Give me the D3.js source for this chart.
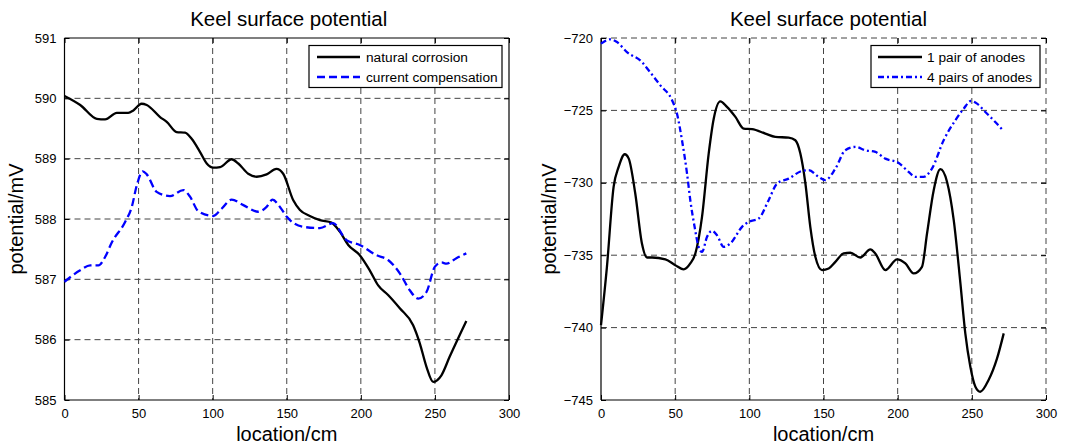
<!DOCTYPE html>
<html>
<head>
<meta charset="utf-8">
<script src="https://cdn.jsdelivr.net/npm/d3@7"></script>
<style>
  html, body { margin: 0; padding: 0; background: #fff; }
  svg { display: block; font-family: "Liberation Sans", Arial, Helvetica, sans-serif; }
</style>
</head>
<body>
<svg id="chart" width="1075" height="446"></svg>
<script>
// ---------- data ----------
const xTicks = [0, 50, 100, 150, 200, 250, 300];
const leftYTicks = [585, 586, 587, 588, 589, 590, 591];
const rightYTicks = [-745, -740, -735, -730, -725, -720];

const titleText = "Keel surface potential";
const xLabel = "location/cm";
const yLabel = "potential/mV";

const leftSeriesNames = ["natural corrosion", "current compensation"];
const rightSeriesNames = ["1 pair of anodes", "4 pairs of anodes"];

// natural corrosion
const ncX = [0, 10.6, 21.8, 27.4, 35.3, 43, 46.5, 52, 55.5, 64.5, 69, 75.7, 81.3, 85.8, 91.5, 96, 100.4, 105, 112.8, 117.3, 124, 129.7, 136.4, 143, 147.6, 154.4, 158.9, 165.6, 172.4, 180.2, 185.8, 191.5, 199.3, 206, 211.7, 218.4, 226.3, 235.3, 239.8, 244.3, 248.8, 254.4, 260, 271.2];
const ncY = [590.04, 589.89, 589.66, 589.65, 589.76, 589.76, 589.80, 589.91, 589.89, 589.69, 589.61, 589.44, 589.43, 589.33, 589.11, 588.92, 588.85, 588.86, 588.99, 588.92, 588.75, 588.70, 588.74, 588.83, 588.75, 588.31, 588.15, 588.05, 587.98, 587.94, 587.79, 587.57, 587.40, 587.15, 586.90, 586.74, 586.52, 586.24, 585.94, 585.55, 585.30, 585.41, 585.72, 586.31];

// current compensation
const ccX = [0, 10.6, 17.3, 22.9, 27.4, 31.9, 40.9, 45.4, 48.8, 52.8, 55.5, 62.2, 71.2, 80.2, 84.7, 90.3, 100.4, 106, 112.8, 120.7, 130.8, 136.4, 140.4, 145.4, 149.9, 161.1, 172.4, 181.3, 190.3, 199.3, 210.6, 218.4, 226.3, 233, 238.7, 244.3, 250, 254.4, 257.8, 264.5, 271.2];
const ccY = [586.96, 587.15, 587.23, 587.23, 587.37, 587.61, 587.95, 588.20, 588.56, 588.79, 588.74, 588.45, 588.38, 588.48, 588.37, 588.13, 588.05, 588.17, 588.32, 588.23, 588.12, 588.20, 588.32, 588.20, 588.04, 587.87, 587.85, 587.93, 587.65, 587.57, 587.40, 587.32, 587.10, 586.82, 586.68, 586.79, 587.21, 587.28, 587.26, 587.35, 587.43];

// 1 pair of anodes
const p1X = [0, 4, 8.5, 11.9, 16, 18.7, 23.1, 27.6, 31, 34.4, 43.4, 50.1, 55.7, 60.2, 63.6, 68.1, 72.6, 76, 80.4, 84.9, 90.6, 96.2, 101.8, 110.8, 117.5, 126.5, 131, 134.4, 137.8, 141.1, 144.5, 149, 153.5, 158, 163.6, 168.1, 174.8, 181.6, 184.9, 191.7, 199.6, 205.2, 210.8, 216.4, 219.8, 224.3, 228.8, 233.3, 237.8, 242.3, 245.6, 249, 252.4, 255.7, 261.3, 267, 271.5];
const p1Y = [-739.83, -735.8, -730.28, -728.9, -728.03, -728.33, -730.74, -734.19, -735.16, -735.16, -735.29, -735.69, -735.98, -735.57, -734.88, -732.35, -727.98, -725.57, -724.37, -724.76, -725.45, -726.26, -726.30, -726.60, -726.83, -726.88, -727.06, -727.98, -730.05, -733.04, -735.11, -736.03, -735.92, -735.46, -734.88, -734.83, -735.16, -734.6, -734.88, -736.03, -735.29, -735.57, -736.26, -735.80, -733.5, -730.51, -729.06, -729.94, -732.58, -736.95, -740.40, -742.70, -744.08, -744.43, -743.62, -742.13, -740.40];

// 4 pairs of anodes
const p4X = [0, 6.3, 10.8, 17.5, 27.6, 32.1, 40, 47.9, 51.2, 54.6, 58, 60.2, 63.1, 65.8, 68.1, 71.5, 74.8, 78.2, 82.7, 87.2, 95.1, 99.6, 106.3, 113, 118.7, 126.5, 135.5, 140, 146.7, 151.2, 158, 164.7, 171.5, 178.2, 185, 191.7, 200.7, 207.4, 211.9, 217.5, 223.1, 231, 238.9, 244.5, 249.4, 253.5, 259.1, 265.8, 271.5];
const p4Y = [-720.39, -720.09, -720.28, -720.97, -721.66, -722.23, -723.27, -724.30, -725.22, -727.06, -729.36, -731.2, -733.04, -734.42, -734.77, -733.73, -733.32, -733.62, -734.42, -734.19, -733.04, -732.70, -732.47, -731.2, -730.05, -729.71, -729.18, -729.13, -729.59, -729.82, -729.02, -727.75, -727.52, -727.75, -727.87, -728.33, -728.63, -729.25, -729.59, -729.59, -729.02, -727.06, -725.68, -724.88, -724.35, -724.53, -725.11, -725.80, -726.44];

// ---------- drawing ----------
const svg = d3.select("#chart");
const FONT_TICK = 13, FONT_LABEL = 20, FONT_TITLE = 20.5, FONT_LEG = 13.7;

function drawPanel(opt) {
  const { left, right, top, bottom, yDomain, yTicks, series, names, legend, boxOn, titleShift, yLabelOffset } = opt;
  const g = svg.append("g");
  const x = d3.scaleLinear().domain([0, 300]).range([left, right]);
  const y = d3.scaleLinear().domain(yDomain).range([bottom, top]);

  // grid
  const grid = g.append("g").attr("stroke", "#444").attr("stroke-width", 1).attr("stroke-dasharray", "6,4").attr("fill", "none");
  xTicks.forEach(t => {
    if (t === 0) return;
    if (boxOn && t === 300) return;
    grid.append("line").attr("x1", x(t)).attr("x2", x(t)).attr("y1", top).attr("y2", bottom);
  });
  yTicks.forEach(t => {
    if (t === yDomain[0]) return;
    if (boxOn && t === yDomain[1]) return;
    grid.append("line").attr("x1", left).attr("x2", right).attr("y1", y(t)).attr("y2", y(t));
  });

  // axes
  const axB = d3.axisBottom(x).tickValues(xTicks).tickSize(-5).tickPadding(9).tickFormat(d3.format("d"));
  const axL = d3.axisLeft(y).tickValues(yTicks).tickSize(-5).tickPadding(8).tickFormat(d3.format("d"));
  const gB = g.append("g").attr("transform", `translate(0,${bottom})`).call(axB);
  const gL = g.append("g").attr("transform", `translate(${left},0)`).call(axL);
  [gB, gL].forEach(a => {
    a.select(".domain").remove();
    a.selectAll(".tick line").attr("stroke", "#000");
    a.selectAll(".tick text").attr("fill", "#000").style("font-size", FONT_TICK + "px");
  });
  const axT = d3.axisTop(x).tickValues(xTicks).tickSize(-5).tickFormat("");
  const axR = d3.axisRight(y).tickValues(yTicks).tickSize(-5).tickFormat("");
  const gT = g.append("g").attr("transform", `translate(0,${top})`).call(axT);
  const gR = g.append("g").attr("transform", `translate(${right},0)`).call(axR);
  [gT, gR].forEach(a => { a.select(".domain").remove(); a.selectAll(".tick line").attr("stroke", "#000"); });

  g.append("line").attr("x1", left).attr("x2", right).attr("y1", bottom).attr("y2", bottom).attr("stroke", "#000").attr("stroke-width", 1.2);
  g.append("line").attr("x1", left).attr("x2", left).attr("y1", top).attr("y2", bottom).attr("stroke", "#000").attr("stroke-width", 1.2);
  if (boxOn) {
    g.append("line").attr("x1", left).attr("x2", right).attr("y1", top).attr("y2", top).attr("stroke", "#000").attr("stroke-width", 1.2);
    g.append("line").attr("x1", right).attr("x2", right).attr("y1", top).attr("y2", bottom).attr("stroke", "#000").attr("stroke-width", 1.2);
  }

  // lines
  const line = d3.line().x(d => x(d[0])).y(d => y(d[1])).curve(d3.curveMonotoneX);
  series.forEach(s => {
    const pts = s.xs.map((v, i) => [v, s.ys[i]]);
    g.append("path").datum(pts).attr("d", line).attr("fill", "none")
      .attr("stroke", s.color).attr("stroke-width", 2.3).attr("stroke-dasharray", s.dash || null)
      .attr("stroke-linejoin", "round");
  });

  // title & labels
  const cx = (left + right) / 2;
  g.append("text").attr("x", cx + titleShift).attr("y", 26).attr("text-anchor", "middle").style("font-size", FONT_TITLE + "px").text(titleText);
  g.append("text").attr("x", cx).attr("y", 441).attr("text-anchor", "middle").style("font-size", FONT_LABEL + "px").text(xLabel);
  g.append("text").attr("transform", `translate(${left - yLabelOffset},${(top + bottom) / 2}) rotate(-90)`).attr("text-anchor", "middle").style("font-size", FONT_LABEL + "px").text(yLabel);

  // legend
  const lg = g.append("g");
  lg.append("rect").attr("x", legend.x).attr("y", legend.y).attr("width", legend.w).attr("height", legend.h)
    .attr("fill", "#fff").attr("stroke", "#000").attr("stroke-width", 1.2);
  series.forEach((s, i) => {
    const ly = legend.y + 11.5 + i * 20;
    lg.append("line").attr("x1", legend.x + legend.l1).attr("x2", legend.x + legend.l2).attr("y1", ly).attr("y2", ly)
      .attr("stroke", s.color).attr("stroke-width", 2.3).attr("stroke-dasharray", s.dash || null);
    lg.append("text").attr("x", legend.x + legend.tx).attr("y", ly + 5).style("font-size", FONT_LEG + "px").text(names[i]);
  });
}

drawPanel({
  left: 64.5, right: 509, top: 38, bottom: 400,
  yDomain: [585, 591], yTicks: leftYTicks, boxOn: true, titleShift: 2, yLabelOffset: 42,
  names: leftSeriesNames,
  series: [
    { xs: ncX, ys: ncY, color: "#000" },
    { xs: ccX, ys: ccY, color: "#0000ff", dash: "8,4" }
  ],
  legend: { x: 309, y: 45.5, w: 193, h: 42, l1: 8, l2: 51, tx: 57 }
});

drawPanel({
  left: 601, right: 1046, top: 38, bottom: 400,
  yDomain: [-745, -720], yTicks: rightYTicks, boxOn: false, titleShift: 5, yLabelOffset: 45,
  names: rightSeriesNames,
  series: [
    { xs: p1X, ys: p1Y, color: "#000" },
    { xs: p4X, ys: p4Y, color: "#0000ff", dash: "6,3,2,3" }
  ],
  legend: { x: 871, y: 45.5, w: 169, h: 42, l1: 7, l2: 51, tx: 56 }
});
</script>
</body>
</html>
